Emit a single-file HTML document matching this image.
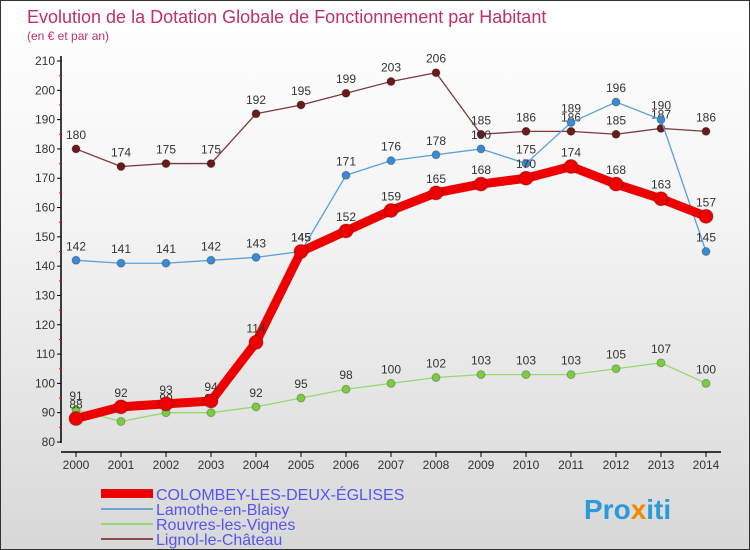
<!DOCTYPE html>
<html><head><meta charset="utf-8"><style>
body{margin:0}
#c{width:750px;height:550px;position:relative;overflow:hidden;font-family:"Liberation Sans",sans-serif;background:linear-gradient(#ffffff 0%,#f4f4f4 40%,#d8d8d8 100%);box-sizing:border-box;border:1px solid #333}
</style></head><body>
<div id="c">
<svg width="750" height="550" id="svg">
<text x="26" y="22" font-size="18" fill="#c0306a">Evolution de la Dotation Globale de Fonctionnement par Habitant</text>
<text x="26" y="39" font-size="12" fill="#c0306a">(en € et par an)</text>
<g id="axes"></g><g id="series"></g>
<g font-size="16" fill="#5555ee">
<rect x="100" y="488" width="52" height="9" fill="#e00"/>
<text x="155" y="499">COLOMBEY-LES-DEUX-ÉGLISES</text>
<rect x="100" y="507" width="52" height="2" fill="#6aa6d0"/>
<text x="155" y="514">Lamothe-en-Blaisy</text>
<rect x="100" y="522" width="52" height="2" fill="#98d870"/>
<text x="155" y="529">Rouvres-les-Vignes</text>
<rect x="100" y="537" width="52" height="2" fill="#8a4a4a"/>
<text x="155" y="544">Lignol-le-Château</text>
</g>
<text x="583" y="518" font-size="28" font-weight="bold" fill="#2a9ad8">Pro<tspan fill="#f08a00">x</tspan>iti</text>
</svg></div>
<script>
const years=[2000,2001,2002,2003,2004,2005,2006,2007,2008,2009,2010,2011,2012,2013,2014];
const colombey=[88,92,93,94,114,145,152,159,165,168,170,174,168,163,157];
const lamothe=[142,141,141,142,143,145,171,176,178,180,175,189,196,190,145];
const rouvres=[91,87,90,90,92,95,98,100,102,103,103,103,105,107,100];
const lignol=[180,174,175,175,192,195,199,203,206,185,186,186,185,187,186];
const yTicks=[80,90,100,110,120,130,140,150,160,170,180,190,200,210];
const NS="http://www.w3.org/2000/svg";
const xs=i=>75+i*45, ys=v=>441-(v-80)*(381/130);
function mk(t,a,p){const e=document.createElementNS(NS,t);for(const k in a)e.setAttribute(k,a[k]);p.appendChild(e);return e;}
const ax=document.getElementById('axes');
let l=mk('line',{x1:60,y1:55,x2:60,y2:442,stroke:'#000','stroke-width':1.5},ax);


l=mk('line',{x1:60,y1:451,x2:720,y2:451,stroke:'#000','stroke-width':1.5},ax);


yTicks.forEach(v=>{const y=ys(v);
mk('line',{x1:56,y1:y,x2:60,y2:y,stroke:'#000'},ax);
if(v<210)mk('line',{x1:58,y1:y-14.6,x2:61,y2:y-14.6,stroke:'#e00'},ax);
const t=mk('text',{x:54,y:y+4,'font-size':12,'text-anchor':'end',fill:'#333'},ax);t.textContent=v;

});
years.forEach((yr,i)=>{const x=xs(i);mk('line',{x1:x,y1:451,x2:x,y2:456,stroke:'#000'},ax);
const t=mk('text',{x:x,y:468,'font-size':12,'text-anchor':'middle',fill:'#333'},ax);t.textContent=yr;

});
const sg=document.getElementById('series');
function draw(data,color,w,r,dot,name){const g=mk('g',{},sg);


mk('polyline',{points:data.map((v,i)=>xs(i)+','+ys(v)).join(' '),fill:'none',stroke:color,'stroke-width':w,'stroke-linejoin':'round'},g);
data.forEach((v,i)=>{const c=mk('circle',{cx:xs(i),cy:ys(v),r:r,fill:dot,stroke:'rgba(0,0,0,0.25)'},g);


const t=mk('text',{x:xs(i),y:ys(v)-10,'font-size':12,'text-anchor':'middle',fill:'#333'},g);t.textContent=v;

});}
draw(lignol,'#7a3a3a',1.3,4,'#6a1a1a','series-lignol');
draw(lamothe,'#5aa0d8',1.3,4,'#3a8ad0','series-lamothe');
draw(rouvres,'#98d870',1.3,4,'#7acc40','series-rouvres');
draw(colombey,'#ee0000',9,7,'#ee0000','series-colombey');
</script>
</body></html>
